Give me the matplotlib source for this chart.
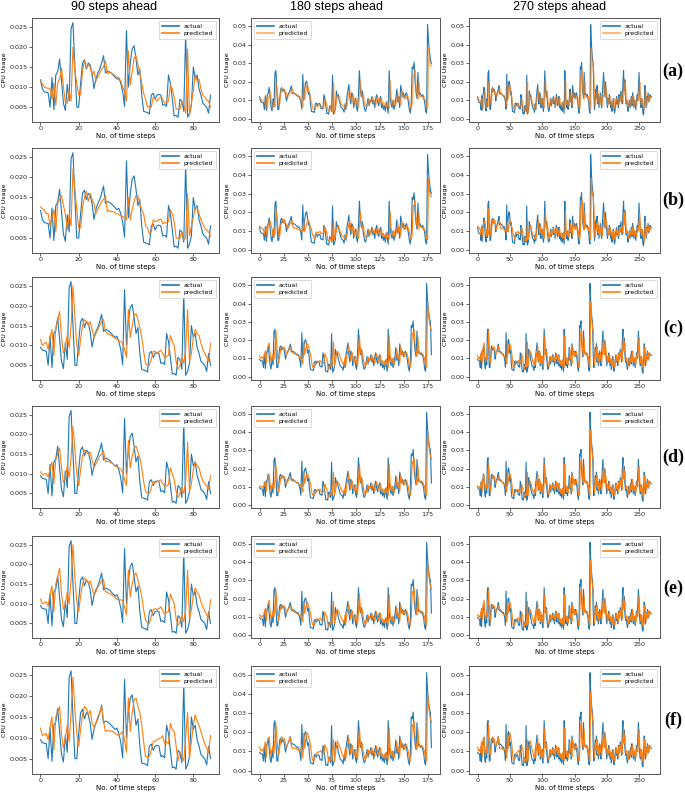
import matplotlib
matplotlib.use("Agg")
import matplotlib.pyplot as plt
import numpy as np
from matplotlib.ticker import MultipleLocator

# ---------------- data (CPU usage in units of 1e-4) ----------------
actual = [
    118, 95, 88, 87, 86, 50, 124, 44, 130, 138,
    170, 115, 60, 42, 107, 65, 245, 260, 150, 50,
    50, 110, 160, 168, 145, 160, 155, 135, 96, 120,
    135, 145, 160, 178, 135, 140, 138, 135, 130, 125,
    120, 123, 110, 90, 52, 240, 100, 160, 195, 203,
    170, 130, 145, 80, 40, 38, 37, 33, 80, 85,
    70, 80, 82, 80, 55, 57, 52, 130, 110, 70,
    28, 30, 25, 70, 65, 40, 235, 25, 35, 55,
    150, 120, 130, 95, 80, 60, 55, 50, 35, 80,
    50, 120, 150, 185, 120, 80, 140, 130, 60, 90,
    110, 60, 40, 130, 260, 160, 120, 150, 90, 60,
    40, 50, 80, 110, 70, 100, 90, 120, 80, 100,
    60, 110, 130, 90, 70, 100, 120, 60, 80, 50,
    70, 40, 90, 60, 30, 260, 120, 80, 60, 100,
    50, 70, 110, 160, 90, 120, 60, 180, 150, 120,
    140, 110, 130, 140, 120, 90, 50, 30, 80, 280,
    270, 305, 200, 140, 110, 250, 130, 140, 130, 120,
    130, 110, 90, 40, 30, 510, 420, 360, 320, 300,
    120, 50, 100, 160, 110, 180, 80, 130, 60, 100,
    140, 90, 60, 120, 170, 250, 180, 120, 200, 150,
    100, 60, 110, 80, 130, 100, 60, 90, 40, 70,
    110, 60, 30, 50, 90, 120, 80, 100, 60, 130,
    90, 120, 150, 110, 80, 190, 260, 150, 210, 120,
    80, 100, 60, 40, 70, 100, 60, 90, 120, 70,
    140, 110, 60, 100, 80, 50, 90, 130, 100, 160,
    250, 140, 90, 60, 110, 80, 30, 20, 70, 180,
    110, 60, 120, 100, 140, 90, 110, 130, 120, 120,
    115,
]

# start offset of the actual series used in each row
row_offsets = [0, 0, 1, 1, 1, 1]

pred_head_a = [
    115, 108, 100, 98, 97, 95, 70, 110, 55, 110,
    120, 148, 100, 62, 60, 92, 65, 200, 140, 110,
    80, 82, 140, 165, 148, 155, 150, 130, 140, 115,
    125, 135, 145, 150, 165, 133, 138, 135, 132, 128,
    125, 118, 117, 100, 90, 65, 190, 105, 140, 172,
    178, 155, 135, 110, 85, 70, 50, 52, 50, 75,
    72, 65, 72, 75, 70, 60, 62, 65, 105, 95,
    75, 45, 45, 45, 65, 55, 35, 195, 30, 60,
    90, 130, 115, 120, 95, 80, 75, 68, 65, 50,
]
pred_head_b = [
    127, 122, 118, 110, 110, 80, 100, 120, 65, 135,
    145, 155, 130, 110, 70, 110, 80, 220, 170, 120,
    75, 75, 125, 150, 165, 140, 160, 145, 135, 110,
    120, 130, 140, 145, 155, 115, 118, 115, 115, 112,
    110, 108, 105, 103, 100, 95, 150, 95, 120, 140,
    155, 155, 135, 120, 110, 80, 75, 60, 65, 95,
    90, 92, 95, 97, 85, 88, 88, 90, 120, 110,
    90, 50, 50, 50, 65, 45, 50, 160, 55, 80,
    100, 125, 125, 110, 95, 85, 75, 70, 65, 55,
]
pred_head_c = [
    115, 100, 105, 108, 90, 120, 140, 75, 145, 165,
    185, 120, 80, 95, 125, 95, 150, 250, 170, 100,
    75, 115, 150, 165, 160, 150, 160, 140, 120, 130,
    140, 150, 160, 165, 135, 130, 128, 125, 122, 118,
    115, 112, 110, 105, 90, 70, 190, 120, 150, 175,
    180, 165, 145, 120, 85, 55, 50, 50, 65, 85,
    85, 80, 85, 88, 80, 70, 72, 75, 125, 110,
    100, 60, 40, 50, 70, 55, 90, 190, 60, 80,
    120, 140, 130, 125, 105, 90, 80, 70, 60, 105,
]
pred_head_d = [
    105, 98, 100, 100, 92, 110, 130, 75, 135, 150,
    165, 115, 78, 90, 120, 90, 140, 220, 160, 100,
    70, 110, 145, 160, 155, 150, 155, 135, 115, 125,
    135, 145, 150, 158, 130, 132, 130, 128, 125, 120,
    118, 115, 112, 105, 85, 70, 185, 115, 145, 165,
    170, 155, 140, 115, 80, 55, 52, 50, 65, 80,
    78, 80, 82, 85, 75, 68, 70, 72, 115, 100,
    85, 55, 40, 50, 65, 50, 80, 180, 55, 75,
    110, 130, 120, 115, 95, 82, 75, 68, 60, 95,
]
pred_head_e = [
    112, 100, 102, 105, 95, 125, 145, 80, 150, 170,
    190, 125, 85, 100, 130, 100, 160, 250, 165, 105,
    80, 120, 150, 165, 160, 152, 158, 140, 122, 130,
    142, 150, 158, 162, 130, 130, 126, 124, 120, 116,
    112, 110, 110, 108, 92, 72, 185, 118, 150, 170,
    178, 160, 142, 118, 85, 58, 52, 50, 68, 85,
    88, 85, 88, 92, 82, 75, 78, 80, 125, 112,
    100, 62, 45, 55, 70, 55, 85, 185, 62, 85,
    120, 140, 130, 122, 105, 92, 82, 72, 65, 110,
]
pred_head_f = [
    123, 105, 108, 110, 95, 125, 150, 70, 150, 160,
    175, 110, 75, 100, 130, 90, 160, 245, 165, 110,
    80, 120, 155, 175, 170, 155, 165, 135, 125, 135,
    150, 160, 175, 140, 115, 118, 117, 115, 115, 110,
    108, 105, 110, 115, 95, 65, 195, 115, 160, 190,
    195, 175, 160, 130, 90, 55, 55, 55, 70, 90,
    92, 95, 98, 100, 105, 85, 90, 85, 135, 120,
    115, 80, 45, 65, 55, 45, 100, 160, 50, 90,
    130, 155, 140, 130, 115, 100, 85, 75, 65, 105,
]
# predictions for steps 90..269
pred_tail_ab = [
    87, 68, 113, 133, 155, 113, 87, 126, 120, 74,
    94, 107, 74, 61, 120, 204, 139, 113, 133, 94,
    74, 61, 68, 87, 107, 81, 100, 94, 113, 87,
    100, 74, 107, 120, 94, 81, 100, 113, 74, 87,
    68, 81, 61, 94, 74, 55, 204, 113, 87, 74,
    100, 68, 81, 107, 139, 94, 113, 74, 152, 133,
    113, 126, 107, 120, 126, 113, 94, 68, 55, 87,
    230, 240, 265, 165, 126, 107, 200, 120, 126, 120,
    113, 120, 107, 94, 61, 55, 380, 310, 290, 285,
    230, 113, 68, 100, 139, 107, 152, 87, 120, 74,
    100, 126, 94, 74, 113, 146, 198, 152, 113, 165,
    133, 100, 74, 107, 87, 120, 100, 74, 94, 61,
    81, 107, 74, 55, 68, 94, 113, 87, 100, 74,
    120, 94, 113, 133, 107, 87, 159, 204, 133, 172,
    113, 87, 100, 74, 61, 81, 100, 74, 94, 113,
    81, 126, 107, 74, 100, 87, 68, 94, 120, 100,
    139, 198, 126, 94, 74, 107, 87, 55, 48, 81,
    152, 107, 74, 113, 100, 126, 94, 107, 120, 113,
]
pred_tail_cf = [
    66, 118, 140, 167, 118, 88, 133, 125, 73, 96,
    110, 73, 58, 125, 223, 148, 118, 140, 96, 73,
    58, 66, 88, 110, 81, 103, 96, 118, 88, 103,
    73, 110, 125, 96, 81, 103, 118, 73, 88, 66,
    81, 58, 96, 73, 51, 223, 118, 88, 73, 103,
    66, 81, 110, 148, 96, 118, 73, 163, 140, 118,
    133, 110, 125, 133, 118, 96, 66, 51, 88, 238,
    230, 257, 178, 133, 110, 215, 125, 133, 125, 118,
    125, 110, 96, 58, 51, 410, 340, 298, 268, 253,
    118, 66, 103, 148, 110, 163, 88, 125, 73, 103,
    133, 96, 73, 118, 155, 215, 163, 118, 178, 140,
    103, 73, 110, 88, 125, 103, 73, 96, 58, 81,
    110, 73, 51, 66, 96, 118, 88, 103, 73, 125,
    96, 118, 140, 110, 88, 170, 223, 140, 185, 118,
    88, 103, 73, 58, 81, 103, 73, 96, 118, 81,
    133, 110, 73, 103, 88, 66, 96, 125, 103, 148,
    215, 133, 96, 73, 110, 88, 51, 43, 81, 163,
    110, 73, 118, 103, 133, 96, 110, 125, 118, 118,
]

pred_heads = [pred_head_a, pred_head_b, pred_head_c, pred_head_d, pred_head_e, pred_head_f]
pred_tails = [pred_tail_ab, pred_tail_ab, pred_tail_cf, pred_tail_cf, pred_tail_cf, pred_tail_cf]

horizons = [90, 180, 270]
col_titles = ["90 steps ahead", "180 steps ahead", "270 steps ahead"]
row_labels = ["(a)", "(b)", "(c)", "(d)", "(e)", "(f)"]
x_steps = [20, 25, 50]
legend_locs = ["upper right", "upper left", "upper right"]
SCALE = 1e-4

# ---------------- layout (pixels) ----------------
W, H = 685, 794
col_left = [32, 251, 469]
col_right = [219, 440, 660]
row_top = [18, 148, 277, 406, 536, 666]
row_h = [104, 105, 103, 102, 102, 108]
title_x = [114, 337, 560]
label_y = [71, 200, 328, 457, 588, 720]

fig = plt.figure(figsize=(W / 100, H / 100), dpi=100)

C_ACT = "#1f77b4"
C_PRED = "#ff7f0e"

for r in range(6):
    off = row_offsets[r]
    pred_full = np.array(pred_heads[r] + pred_tails[r], dtype=float) * SCALE
    act_full = np.array(actual[off:off + 270], dtype=float) * SCALE
    for c in range(3):
        n = horizons[c]
        l, rr = col_left[c], col_right[c]
        t, h = row_top[r], row_h[r]
        ax = fig.add_axes([l / W, 1 - (t + h) / H, (rr - l) / W, h / H])
        x = np.arange(n)
        ax.plot(x, act_full[:n], color=C_ACT, lw=0.8, label="actual")
        if r == 0 and c > 0:
            ax.plot(x, pred_full[:n], color=C_PRED, lw=1.1, alpha=0.65, label="predicted")
        else:
            ax.plot(x, pred_full[:n], color=C_PRED, lw=0.8, label="predicted")
        ax.xaxis.set_major_locator(MultipleLocator(x_steps[c]))
        if c == 0:
            ax.yaxis.set_major_locator(MultipleLocator(0.005))
        else:
            ax.yaxis.set_major_locator(MultipleLocator(0.01))
            ax.set_ylim(-0.0018, 0.0545)
        ax.tick_params(labelsize=4.6, length=2, width=0.5, pad=1.2, colors="#222222")
        ax.set_xlabel("No. of time steps", fontsize=5, labelpad=0.8)
        ax.set_ylabel("CPU Usage", fontsize=4.6, labelpad=2)
        for s in ax.spines.values():
            s.set_color("#555555")
            s.set_linewidth(0.7)
        leg = ax.legend(loc=legend_locs[c], fontsize=4.4, handlelength=2.8,
                        borderpad=0.45, labelspacing=0.3, handletextpad=0.8,
                        framealpha=1, edgecolor="#cccccc", fancybox=True)
        leg.get_frame().set_linewidth(0.5)
        for ln in leg.get_lines():
            ln.set_linewidth(1.2)

for c in range(3):
    fig.text(title_x[c] / W, 1 - 7 / H, col_titles[c], ha="center", va="center",
             fontsize=9, family="Liberation Sans")

for r in range(6):
    fig.text(673 / W, 1 - label_y[r] / H, row_labels[r], ha="center", va="center",
             fontsize=13, fontweight="bold", family="Liberation Serif")

fig.savefig("out.png", dpi=100, facecolor="white")
